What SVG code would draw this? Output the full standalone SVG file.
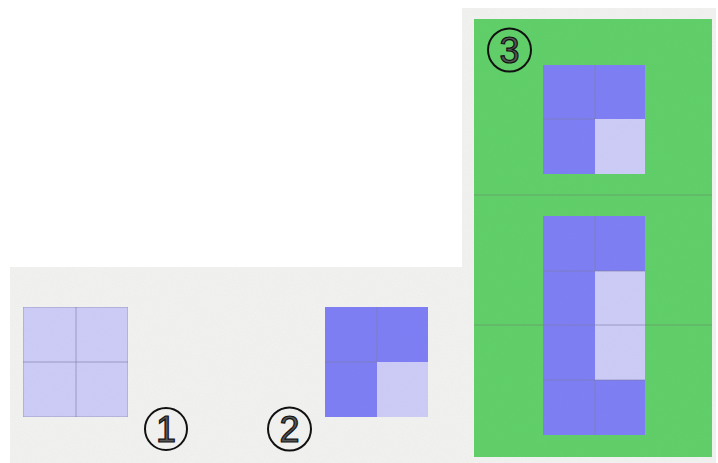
<svg xmlns="http://www.w3.org/2000/svg" width="718" height="463" viewBox="0 0 718 463">
<defs>
<filter id="tex" x="0" y="0" width="100%" height="100%">
<feTurbulence type="fractalNoise" baseFrequency="0.9" numOctaves="2" seed="3" result="n"/>
<feColorMatrix in="n" type="matrix" values="0 0 0 0 0  0 0 0 0 0  0 0 0 0 0  0 0 0 0.05 0" result="d"/>
<feComposite in="d" in2="SourceGraphic" operator="in" result="m"/>
<feMerge><feMergeNode in="SourceGraphic"/><feMergeNode in="m"/></feMerge>
</filter>
</defs>
<style>
.paper{fill:#f3f3f1}
.light{fill:#cdcdf8}
.blue{fill:#8080f6}
.green{fill:#62d06a}
.grid{stroke:#7d7da8;stroke-width:1;fill:none;opacity:0.6}
.gline{stroke:#6a9a6a;stroke-width:1;fill:none;opacity:0.7}
.ring{fill:none;stroke:#111;stroke-width:2}
.num{font-family:"Liberation Sans",Arial,sans-serif;font-size:36px;fill:#555;stroke:#111;stroke-width:1.2;text-anchor:middle}
</style>
<rect width="718" height="463" fill="#ffffff"/>
<g id="panel-bottom" filter="url(#tex)">
<rect class="paper" x="10" y="267" width="453" height="196"/>
</g>
<g id="panel-right" filter="url(#tex)">
<rect class="paper" x="462" y="8" width="254" height="455"/>
<rect class="green" x="474" y="19" width="238" height="438"/>
<line class="gline" x1="474" y1="195" x2="712" y2="195"/>
<line class="gline" x1="474" y1="325" x2="712" y2="325"/>
</g>
<g id="node-1" filter="url(#tex)">
<rect class="light" x="23" y="307" width="105" height="110"/>
<rect class="grid" x="23" y="307" width="105" height="110"/>
<line class="grid" x1="76" y1="307" x2="76" y2="417"/>
<line class="grid" x1="23" y1="362" x2="128" y2="362"/>
</g>
<g id="node-2" filter="url(#tex)">
<rect class="blue" x="325" y="307" width="103" height="110"/>
<rect class="light" x="377" y="362" width="51" height="55"/>
<line class="grid" x1="377" y1="307" x2="377" y2="362"/>
<line class="grid" x1="325" y1="362" x2="377" y2="362"/>
</g>
<g id="node-3a" filter="url(#tex)">
<rect class="blue" x="543" y="65" width="102" height="109"/>
<rect class="light" x="595" y="119" width="50" height="55"/>
<line class="grid" x1="595" y1="65" x2="595" y2="119"/>
<line class="grid" x1="543" y1="119" x2="595" y2="119"/>
</g>
<g id="node-3b" filter="url(#tex)">
<rect class="blue" x="543" y="216" width="102" height="219"/>
<rect class="light" x="595" y="271" width="50" height="109"/>
<line class="grid" x1="595" y1="216" x2="595" y2="271"/>
<line class="grid" x1="595" y1="380" x2="595" y2="435"/>
<line class="grid" x1="543" y1="271" x2="645" y2="271"/>
<line class="grid" x1="543" y1="325" x2="645" y2="325"/>
<line class="grid" x1="543" y1="380" x2="645" y2="380"/>
</g>
<g id="label-1">
<circle class="ring" cx="166" cy="429" r="21"/>
<text class="num" x="166" y="442">1</text>
</g>
<g id="label-2">
<circle class="ring" cx="289.5" cy="429" r="21.5"/>
<text class="num" x="289.5" y="442">2</text>
</g>
<g id="label-3">
<circle class="ring" cx="509.5" cy="50" r="21.5"/>
<text class="num" x="509.5" y="63">3</text>
</g>
<g id="connectors"></g>
</svg>
